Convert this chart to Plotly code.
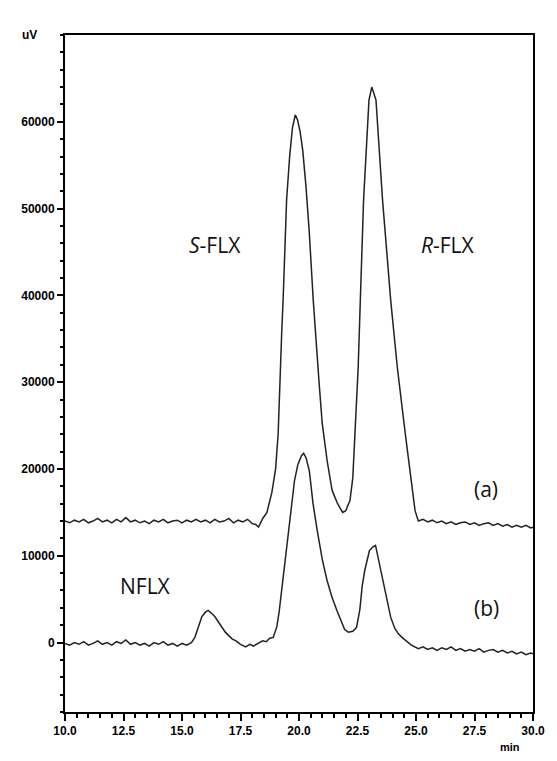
import plotly.graph_objects as go

# ---- trace (a): racemic fluoxetine ----
time_a = [10.0, 10.2, 10.4, 10.6, 10.8, 11.0, 11.2, 11.4, 11.6, 11.8, 12.0, 12.2, 12.4, 12.6, 12.8,
          13.0, 13.2, 13.4, 13.6, 13.8, 14.0, 14.2, 14.4, 14.6, 14.8, 15.0, 15.2, 15.4, 15.6, 15.8,
          16.0, 16.2, 16.4, 16.6, 16.8, 17.0, 17.2, 17.4, 17.6, 17.8, 18.0, 18.15, 18.27, 18.45,
          18.63, 18.84, 19.0, 19.11, 19.26, 19.32, 19.47, 19.6, 19.72, 19.84, 19.94, 20.05, 20.16,
          20.3, 20.44, 20.61, 20.86, 20.99, 21.2, 21.41, 21.48, 21.65, 21.8, 21.87, 22.0, 22.18,
          22.3, 22.39, 22.53, 22.62, 22.76, 22.99, 23.11, 23.29, 23.57, 23.92, 24.2, 24.54, 24.82,
          24.96, 25.1, 25.3, 25.5, 25.7, 25.9, 26.1, 26.3, 26.5, 26.7, 26.9, 27.1, 27.3, 27.5, 27.7,
          27.9, 28.1, 28.3, 28.5, 28.7, 28.9, 29.1, 29.3, 29.5, 29.7, 29.9, 30.0]
signal_a = [14000, 13800, 14100, 13900, 14200, 13800, 14000, 14300, 13900, 14100, 13800, 14200, 13900, 14400, 13900,
            14100, 13800, 14000, 13700, 14100, 13900, 14200, 13800, 14000, 14100, 13800, 14100, 13900, 14200, 13900,
            14100, 13800, 14200, 13900, 14000, 14300, 13800, 14100, 13900, 14200, 13700, 13600, 13300, 14300,
            15000, 17300, 20000, 24100, 35600, 39400, 51000, 56000, 59300, 60800, 60200, 58800, 56700,
            52500, 47200, 39400, 29900, 25300, 21000, 17600, 17100, 16000, 15300, 15000, 15200, 16400,
            19000, 24100, 31750, 39400, 51000, 62500, 64000, 62500, 51000, 39400, 31750, 24100, 18300,
            15200, 14000, 14200, 13900, 14100, 13800, 14000, 13700, 13900, 13600, 13800, 13900, 13600, 13800, 13500,
            13700, 13800, 13500, 13700, 13400, 13600, 13300, 13500, 13300, 13500, 13200, 13300]

# ---- trace (b): sample with norfluoxetine ----
time_b = [10.0, 10.2, 10.4, 10.6, 10.8, 11.0, 11.2, 11.4, 11.6, 11.8, 12.0, 12.2, 12.4, 12.6, 12.8,
          13.0, 13.2, 13.4, 13.6, 13.8, 14.0, 14.2, 14.4, 14.6, 14.8, 15.0, 15.2, 15.4, 15.55, 15.7,
          15.85, 16.0, 16.12, 16.25, 16.4, 16.55, 16.7, 16.85, 17.0, 17.15, 17.31, 17.5, 17.72, 17.9,
          18.05, 18.27, 18.45, 18.6, 18.75, 18.9, 19.05, 19.15, 19.26, 19.4, 19.53, 19.67, 19.81,
          19.95, 20.1, 20.2, 20.3, 20.44, 20.6, 20.78, 21.0, 21.2, 21.4, 21.62, 21.83, 21.95, 22.11,
          22.3, 22.46, 22.6, 22.7, 22.81, 23.01, 23.15, 23.27, 23.4, 23.57, 23.75, 23.92, 24.1, 24.25,
          24.4, 24.6, 24.8, 25.1, 25.3, 25.5, 25.7, 25.9, 26.1, 26.3, 26.5, 26.7, 26.9, 27.1, 27.3,
          27.5, 27.7, 27.9, 28.1, 28.3, 28.5, 28.7, 28.9, 29.1, 29.3, 29.5, 29.7, 29.9, 30.0]
signal_b = [-100, -300, 0, -200, 100, -300, -100, 200, -200, 0, -300, 100, -100, 300, -200,
            0, -300, -100, -400, 0, -200, 100, -300, -100, -400, -100, -300, 0, 600, 1800,
            3000, 3500, 3700, 3400, 3000, 2400, 1800, 1200, 800, 400, 200, -200, -500, -200,
            -400, -100, 200, 100, 500, 600, 1800, 3500, 6000, 9000, 11760, 15500, 18700,
            20500, 21500, 21800, 21300, 19800, 16000, 12900, 9500, 7150, 5300, 3700, 2150, 1500, 1200,
            1300, 1750, 3800, 6500, 8300, 10600, 11000, 11200, 9500, 7150, 4800, 2900, 1600, 1000,
            600, 200, -300, -700, -500, -800, -600, -900, -600, -800, -500, -900, -700, -1000, -800,
            -1000, -700, -1100, -900, -800, -1100, -900, -1200, -1000, -1300, -1100, -1400, -1200, -1300]

# ---- labels ----
label_text = ["<i>S</i>-FLX", "<i>R</i>-FLX", "(a)", "(b)", "NFLX"]
label_x = [16.39, 26.37, 28.0, 28.0, 13.44]
label_y = [45800, 45800, 17640, 4040, 6460]

x_ticks = [10.0, 12.5, 15.0, 17.5, 20.0, 22.5, 25.0, 27.5, 30.0]
x_ticklabels = ["10.0", "12.5", "15.0", "17.5", "20.0", "22.5", "25.0", "27.5", "30.0"]
y_ticks = [0, 10000, 20000, 30000, 40000, 50000, 60000]
y_ticklabels = ["0", "10000", "20000", "30000", "40000", "50000", "60000"]

fig = go.Figure()
line_style = dict(color="#222222", width=1.5)
fig.add_trace(go.Scatter(x=time_a, y=signal_a, mode="lines", line=line_style, showlegend=False))
fig.add_trace(go.Scatter(x=time_b, y=signal_b, mode="lines", line=line_style, showlegend=False))

for t, lx, ly in zip(label_text, label_x, label_y):
    fig.add_annotation(x=lx, y=ly, text=t, showarrow=False,
                       font=dict(family="Open Sans", size=21, color="#111111"))

fig.add_annotation(xref="paper", yref="paper", x=-0.097, y=1.013, text="<b>uV</b>", showarrow=False,
                   font=dict(family="Liberation Sans", size=12, color="black"))
fig.add_annotation(xref="paper", yref="paper", x=0.977, y=-0.0635, text="<b>min</b>", showarrow=False,
                   font=dict(family="Liberation Sans", size=11, color="black"))

tick_font = dict(family="Liberation Sans", size=12, color="black")

fig.update_xaxes(range=[10, 30], tickmode="array", tickvals=x_ticks,
                 ticktext=["<b>" + s + "</b>" for s in x_ticklabels],
                 ticks="outside", ticklen=7, tickwidth=2, tickcolor="black",
                 minor=dict(dtick=0.5, ticks="outside", ticklen=4, tickwidth=1.5, tickcolor="black"),
                 showline=True, linecolor="black", linewidth=2, mirror=True,
                 gridcolor="white", tickfont=tick_font)
fig.update_yaxes(range=[-8000, 70000], tickmode="array", tickvals=y_ticks,
                 ticktext=["<b>" + s + "</b>" for s in y_ticklabels],
                 ticks="outside", ticklen=6, tickwidth=2, tickcolor="black",
                 minor=dict(dtick=2000, ticks="outside", ticklen=3, tickwidth=1.5, tickcolor="black"),
                 showline=True, linecolor="black", linewidth=2, mirror=True,
                 gridcolor="white", zerolinecolor="white", tickfont=tick_font)

fig.update_layout(width=557, height=761, margin=dict(l=65, r=13, t=35, b=49),
                  plot_bgcolor="white", paper_bgcolor="white")

fig.write_html("out.html")
